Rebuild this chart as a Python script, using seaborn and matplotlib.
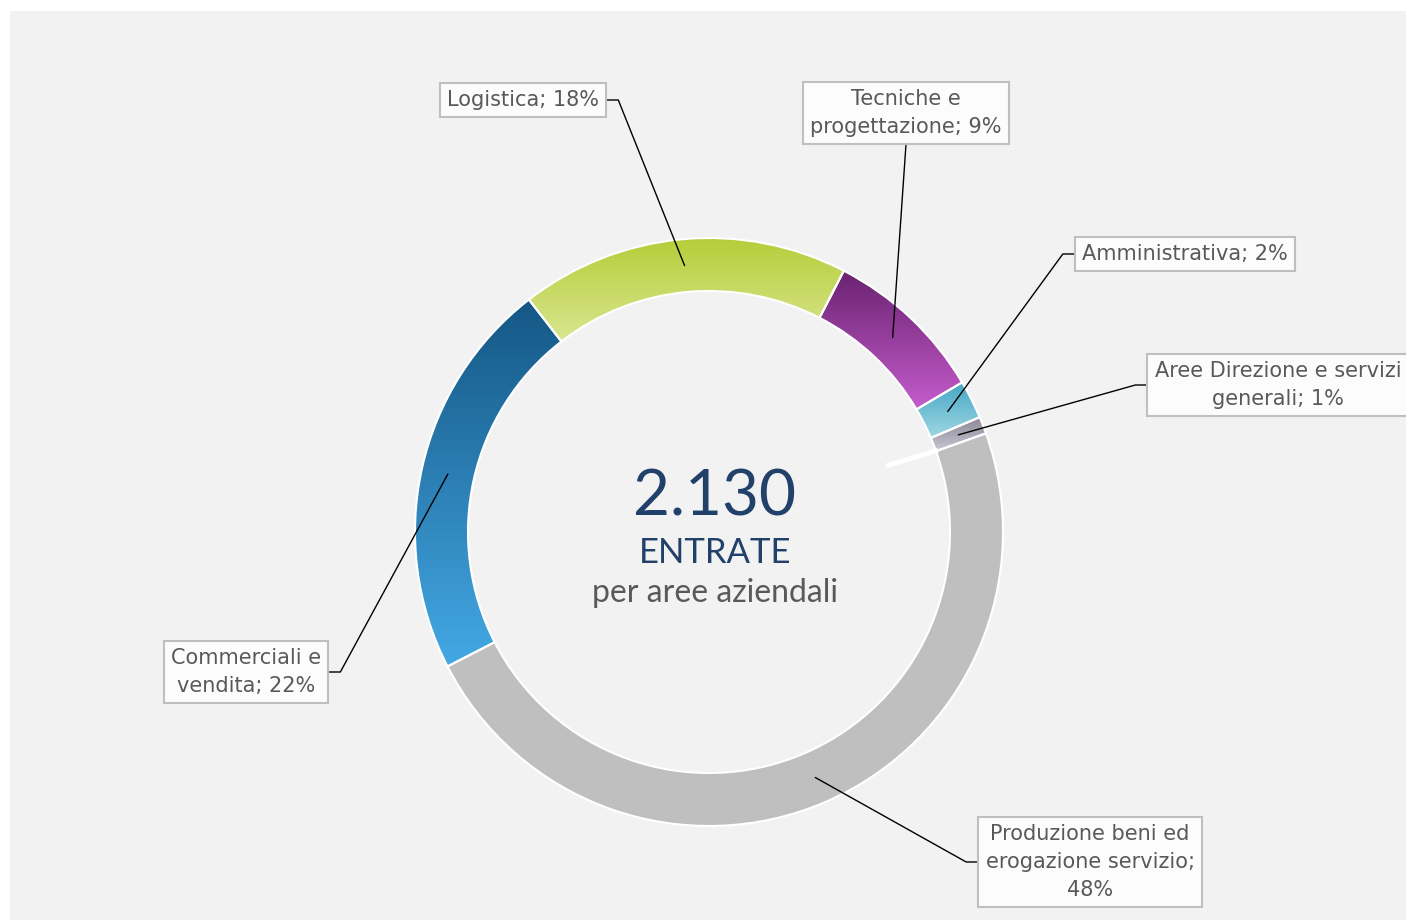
import numpy as np
import matplotlib.pyplot as plt
import seaborn as sns
from matplotlib.patches import Rectangle

# data: entrate per area aziendale (totale 2.130), clockwise from the Tecniche slice
names = ["Tecniche e\nprogettazione", "Amministrativa", "Aree Direzione e servizi\ngenerali",
         "Produzione beni ed\nerogazione servizio", "Commerciali e\nvendita", "Logistica"]
joiners = [" ", " ", " ", "\n", " ", " "]
values = [190, 45, 20, 1020, 470, 385]
total_label = "2.130"

# gradient colours (top -> bottom) for each slice
grad_top = ["#6a2270", "#46a6c3", "#8c8897", "#bfbfbf", "#145785", "#b6cd38"]
grad_bot = ["#c45ccc", "#a0d8e4", "#c8c6d2", "#bfbfbf", "#44a8e4", "#d9e690"]

# label layout (pixel centres of the boxes) and where the leader leaves the box
label_pos = [(906, 113), (1185, 254), (1278, 385), (1090, 862), (246, 672), (523, 100)]
label_side = ["bottom", "left", "left", "left", "right", "right"]

W, H = 1406, 922
sns.set_theme(style="white")
plt.rcParams["font.family"] = ["DejaVu Sans"]

fig = plt.figure(figsize=(W / 100, H / 100), dpi=100)
fig.patch.set_facecolor("white")
ax = fig.add_axes([0, 0, 1, 1])


def px(x, y):
    return x, H - y


cx, cy = px(709, 532)
R, ring = 294, 53

ax.add_patch(Rectangle(px(10, 920), W - 10, 909, facecolor="#f2f2f2", edgecolor="none", zorder=0))

wedges, _ = ax.pie(values, radius=R, center=(cx, cy), startangle=62.7, counterclock=False,
                   wedgeprops=dict(width=ring, edgecolor="white", linewidth=1.5), frame=True)

for w, top, bot in zip(wedges, grad_top, grad_bot):
    th = np.radians(np.linspace(w.theta1, w.theta2, 100))
    xs = np.concatenate([cx + R * np.cos(th), cx + (R - ring) * np.cos(th)])
    ys = np.concatenate([cy + R * np.sin(th), cy + (R - ring) * np.sin(th)])
    cmap = sns.blend_palette([bot, top], n_colors=256, as_cmap=True)
    grad = np.linspace(0, 1, 256).reshape(-1, 1)
    im = ax.imshow(grad, cmap=cmap, origin="lower", aspect="auto",
                   extent=(xs.min(), xs.max(), ys.min(), ys.max()), zorder=1)
    im.set_clip_path(w)
    w.set_facecolor("none")
    w.set_zorder(2)

# odd white tick inside the ring
ax.plot(*zip(px(886, 466), px(938, 450)), color="white", lw=3.5, solid_capstyle="butt", zorder=2)

# centre text
ax.text(*px(715, 498), total_label, ha="center", va="center", fontsize=46, color="#22416a",
        family="Lato")
ax.text(*px(715, 553), "ENTRATE", ha="center", va="center", fontsize=25, color="#22416a",
        family="Lato")
ax.text(*px(715, 593), "per aree aziendali", ha="center", va="center", fontsize=23, color="#595959",
        family="Lato")

total = sum(values)
texts = []
for name, j, v, pos in zip(names, joiners, values, label_pos):
    lab = f"{name};{j}{round(100 * v / total)}%"
    t = ax.text(*px(*pos), lab, ha="center", va="center", fontsize=15, color="#595959",
                linespacing=1.5, zorder=4,
                bbox=dict(boxstyle="square,pad=0.35", facecolor="#fcfcfc", edgecolor="#bfbfbf", linewidth=1.5))
    texts.append(t)

ax.set_xlim(0, W)
ax.set_ylim(0, H)
ax.set_aspect("auto")
ax.axis("off")

fig.canvas.draw()
inv = ax.transData.inverted()
for w, t, side in zip(wedges, texts, label_side):
    bb = t.get_bbox_patch().get_window_extent()
    (x0, y0), (x1, y1) = inv.transform([[bb.x0, bb.y0], [bb.x1, bb.y1]])
    mid = np.radians((w.theta1 + w.theta2) / 2)
    ex, ey = cx + (R - ring / 2) * np.cos(mid), cy + (R - ring / 2) * np.sin(mid)
    if side == "bottom":
        pts = [((x0 + x1) / 2, y0), (ex, ey)]
    elif side == "left":
        ym = (y0 + y1) / 2
        pts = [(x0, ym), (x0 - 12, ym), (ex, ey)]
    else:
        ym = (y0 + y1) / 2
        pts = [(x1, ym), (x1 + 12, ym), (ex, ey)]
    ax.plot(*zip(*pts), color="black", lw=1, zorder=3)

fig.savefig("out.png", dpi=100, facecolor="white")
